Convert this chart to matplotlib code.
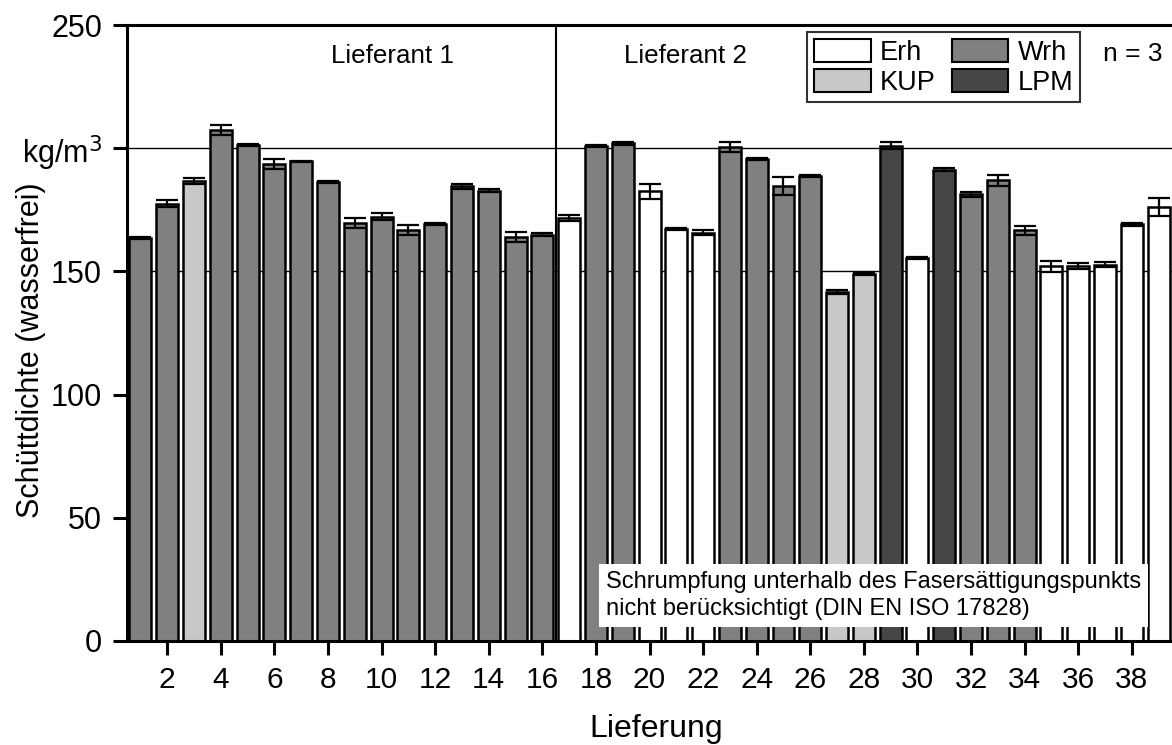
import numpy as np
import matplotlib
matplotlib.use("Agg")
import matplotlib.pyplot as plt
from matplotlib.patches import Patch

plt.rcParams['font.family'] = ['Liberation Sans', 'DejaVu Sans']

# Lieferung 1..39, Sortiment, Mittelwert und Standardabweichung (n = 3)
lieferung = list(range(1, 40))
sorte = ['Wrh', 'Wrh', 'KUP'] + ['Wrh'] * 13 + \
        ['Erh', 'Wrh', 'Wrh', 'Erh', 'Erh', 'Erh', 'Wrh', 'Wrh', 'Wrh', 'Wrh',
         'KUP', 'KUP', 'LPM', 'Erh', 'LPM', 'Wrh', 'Wrh', 'Wrh',
         'Erh', 'Erh', 'Erh', 'Erh', 'Erh']
mittel = [163.5, 177.5, 186.7, 207.4, 201.5, 193.5, 194.7, 186.3, 169.5, 172.2,
          166.8, 169.3, 184.5, 182.8, 164.0, 164.9,
          171.7, 200.9, 202.0, 182.5, 167.1, 165.7, 200.5, 195.6, 184.8, 188.7,
          141.8, 148.9, 201.0, 155.6, 191.3, 181.3, 187.0, 166.7, 152.0, 152.3,
          152.7, 169.1, 176.0]
stabw = [0.3, 1.5, 1.2, 2.2, 0.4, 2.1, 0.3, 0.5, 2.0, 1.4, 2.1, 0.5, 0.9, 0.7, 2.0, 0.5,
         1.3, 0.4, 0.6, 3.0, 0.4, 1.0, 2.0, 0.4, 3.7, 0.4, 0.8, 0.5, 1.5, 0.4, 0.6,
         1.0, 2.2, 1.9, 2.3, 1.2, 1.1, 0.5, 3.6]

farben = {'Erh': '#ffffff', 'Wrh': '#808080', 'KUP': '#c8c8c8', 'LPM': '#464646'}
yticks = [0, 50, 100, 150, 200, 250]
ylabels = ['0', '50', '100', '150', 'kg/m$^3$', '250']

fig = plt.figure(figsize=(11.72, 7.45), dpi=100)
ax = fig.add_axes([0.1084, 0.1396, 0.8916, 0.8268])

ax.axhline(150, color='black', lw=1, zorder=0)
ax.axhline(200, color='black', lw=1, zorder=0)
ax.axvline(16.5, color='black', lw=1.5, zorder=1)

ax.bar(lieferung, mittel, width=0.82, color=[farben[s] for s in sorte],
       edgecolor='black', linewidth=1.8, zorder=2)
ax.errorbar(lieferung, mittel, yerr=stabw, fmt='none', ecolor='black',
            elinewidth=1.6, capsize=8, capthick=1.6, zorder=3)

ax.set_xlim(0.5, 39.5)
ax.set_ylim(0, 250)
ax.set_xticks(range(2, 39, 2))
ax.set_yticks(yticks)
ax.set_yticklabels(ylabels)
ax.tick_params(axis='both', width=2.2, length=10, direction='out')
ax.tick_params(axis='x', labelsize=21.5, pad=8)
ax.tick_params(axis='y', labelsize=22, pad=8)
for sp in ['left', 'bottom', 'top']:
    ax.spines[sp].set_linewidth(2.2)
ax.spines['right'].set_visible(False)

ax.set_ylabel('Schüttdichte (wasserfrei)', fontsize=22)
ax.yaxis.set_label_coords(-0.078, 0.472)
ax.set_xlabel('Lieferung', fontsize=23)
ax.xaxis.set_label_coords(0.506, -0.119)

ax.text(10.39, 234.7, 'Lieferant 1', fontsize=18.7, ha='center', va='baseline')
ax.text(21.35, 234.7, 'Lieferant 2', fontsize=18.7, ha='center', va='baseline')
ax.text(38.05, 235.5, 'n = 3', fontsize=19, ha='center', va='baseline')

ax.text(18.36, 18.5, 'Schrumpfung unterhalb des Fasersättigungspunkts\n'
        'nicht berücksichtigt (DIN EN ISO 17828)', fontsize=17,
        ha='left', va='center', linespacing=1.3, zorder=5,
        bbox=dict(facecolor='white', edgecolor='none', pad=5))

handles = [Patch(facecolor=farben[k], edgecolor='black', linewidth=1.5, label=k)
           for k in ['Erh', 'KUP', 'Wrh', 'LPM']]
leg = ax.legend(handles=handles, ncol=2, loc='upper left',
                bbox_to_anchor=(0.6507, 0.9886), fontsize=19.5, frameon=True,
                fancybox=False, edgecolor='black', handlelength=2.1,
                handleheight=0.95, handletextpad=0.33, columnspacing=0.6,
                labelspacing=0.1, borderpad=0.25, borderaxespad=0)
leg.get_frame().set_linewidth(1.5)

fig.savefig('out.png', dpi=100)
